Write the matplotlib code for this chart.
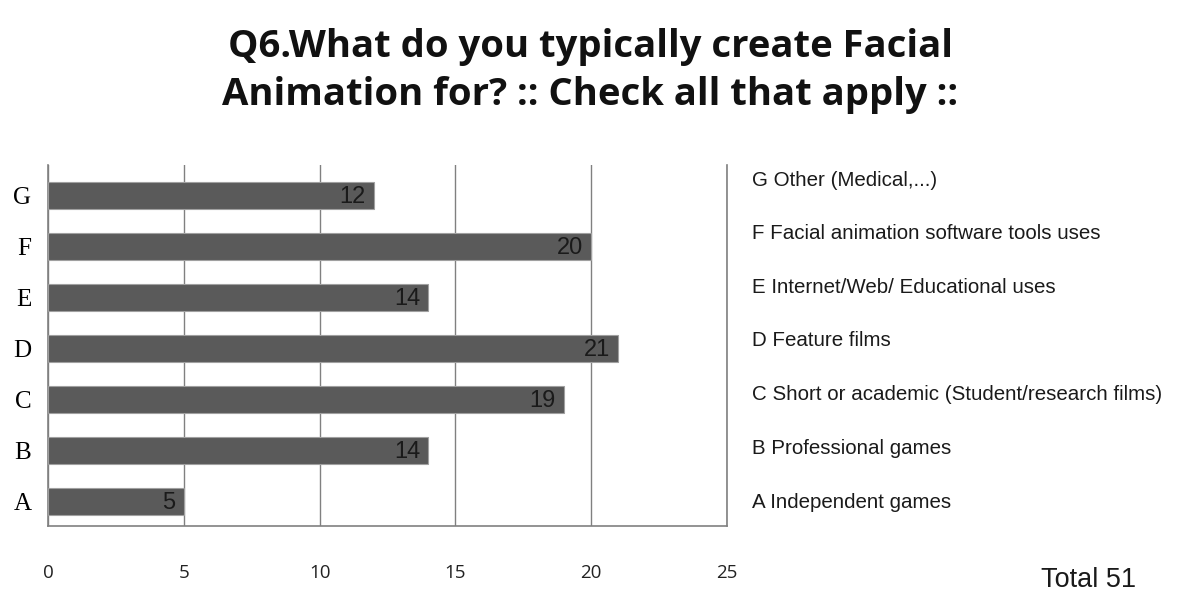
import matplotlib
matplotlib.use("Agg")
import matplotlib.pyplot as plt

categories = ["A", "B", "C", "D", "E", "F", "G"]
counts = [5, 14, 19, 21, 14, 20, 12]
descriptions = [
    "A Independent games",
    "B Professional games",
    "C Short or academic (Student/research films)",
    "D Feature films",
    "E Internet/Web/ Educational uses",
    "F Facial animation software tools uses",
    "G Other (Medical,...)",
]
xticks = [0, 5, 10, 15, 20, 25]
title = "Q6.What do you typically create Facial\nAnimation for? :: Check all that apply ::"
total_label = "Total 51"

fig = plt.figure(figsize=(11.83, 6.0), dpi=100)
ax = fig.add_axes([48 / 1183, 1 - 526 / 600, 679 / 1183, 361 / 600])

ypos = list(range(len(categories)))
ax.barh(ypos, counts, height=0.53, color="#5a5a5a", edgecolor="#a0a0a0",
        linewidth=0.8, zorder=3)

for y, v in zip(ypos, counts):
    ax.text(v - 0.3, y - 0.03, str(v), ha="right", va="center", fontsize=17,
            family="Liberation Sans", color="#1a1a1a", zorder=4)

ax.set_xlim(0, 25)
ax.set_ylim(-0.49, 6.59)
ax.set_xticks(xticks)
ax.set_xticklabels([str(t) for t in xticks], family="Open Sans", fontsize=13.5,
                   color="#222222")
ax.set_yticks(ypos)
ax.set_yticklabels(categories, family="Liberation Serif", fontsize=18)
ax.tick_params(axis="x", length=0, pad=27)
ax.tick_params(axis="y", length=0, pad=12)

ax.grid(axis="x", color="#808080", linewidth=1.0, zorder=0)
for s in ["left", "right", "bottom"]:
    ax.spines[s].set_color("#808080")
    ax.spines[s].set_linewidth(1.2)
ax.spines["top"].set_visible(False)

# descriptions on the right
top_y, bot_y = 180, 502
n = len(descriptions)
for i, d in enumerate(descriptions):
    py = bot_y - i * (bot_y - top_y) / (n - 1)
    fig.text(752 / 1183, 1 - py / 600, d, ha="left", va="center",
             fontsize=14.8, family="Liberation Sans", color="#1a1a1a")

fig.text(1136 / 1183, 1 - 580 / 600, total_label, ha="right", va="center",
         fontsize=19.5, family="Liberation Sans", color="#1a1a1a")

fig.text(590 / 1183, 1 - 71 / 600, title, ha="center", va="center",
         fontsize=27.5, family="Open Sans", fontweight="bold", color="#111111",
         linespacing=1.33)

fig.savefig("out.png", dpi=100)
